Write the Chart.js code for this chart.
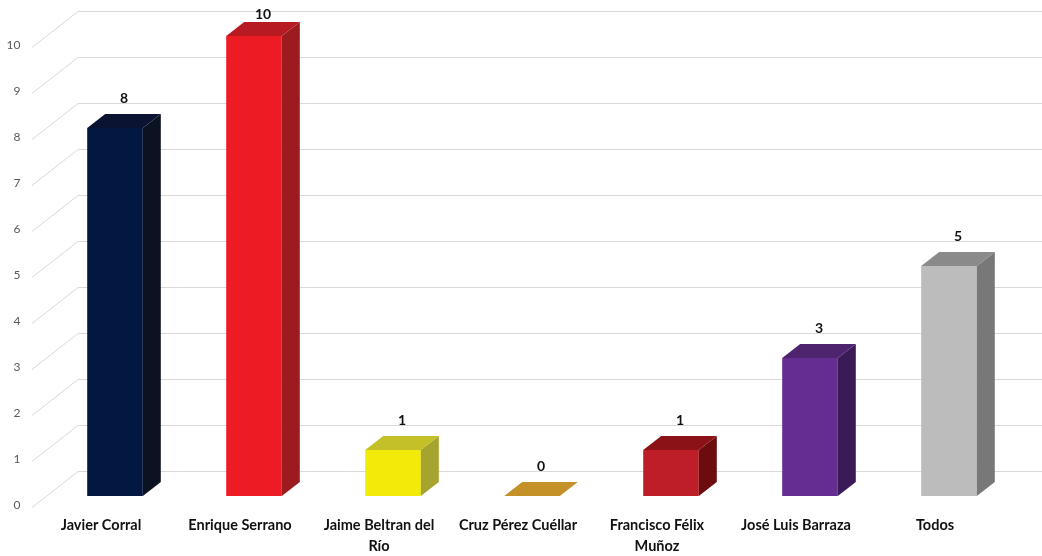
<!DOCTYPE html>
<html>
<head>
<meta charset="utf-8">
<script src="https://cdn.jsdelivr.net/npm/chart.js@4/dist/chart.umd.min.js"></script>
<style>
  html, body { margin: 0; padding: 0; background: #fff; }
  #wrap { position: relative; width: 1042px; height: 556px; }
</style>
</head>
<body>
<div id="wrap"><canvas id="votes"></canvas></div>
<script>
const categories = [
    'Javier Corral',
    'Enrique Serrano',
    ['Jaime Beltran del', 'Río'],
    'Cruz Pérez Cuéllar',
    ['Francisco Félix', 'Muñoz'],
    'José Luis Barraza',
    'Todos'
]
const values = [8, 10, 1, 0, 1, 3, 5]
const yTicks = [0, 1, 2, 3, 4, 5, 6, 7, 8, 9, 10]

// front / side / top shades for each bar
const frontColors = ['#021841', '#ed1c24', '#f2eb0a', '#c39128', '#be1e27', '#662d91', '#bcbcbc']
const sideColors  = ['#0b1222', '#9b1b1f', '#a6a42f', '#c39128', '#6c0c0f', '#3c1a58', '#787878']
const topColors   = ['#0a1432', '#b71b21', '#c4c027', '#c39128', '#8b1317', '#4e246f', '#8a8a8a']

const DX = 18, DY = -14       // bar depth
const WALL = -25              // back wall offset from bar front
const FRONT_X = 32, BACK_X = 78

const fake3d = {
    id: 'fake3d',
    beforeDatasetsDraw(chart) {
        const ctx = chart.ctx
        const y = chart.scales.y
        ctx.save()
        ctx.strokeStyle = '#d9d9d9'
        ctx.lineWidth = 1
        yTicks.forEach(v => {
            const py = Math.round(y.getPixelForValue(v) + WALL) + 0.5
            ctx.beginPath()
            ctx.moveTo(FRONT_X, py + 36)
            ctx.lineTo(BACK_X, py)
            ctx.lineTo(chart.width, py)
            ctx.stroke()
        })
        ctx.restore()
    },
    afterDatasetsDraw(chart) {
        const ctx = chart.ctx
        const meta = chart.getDatasetMeta(0)
        ctx.save()
        meta.data.forEach((bar, i) => {
            const l = bar.x - bar.width / 2
            const r = bar.x + bar.width / 2
            const t = bar.y
            const b = bar.base
            // side face
            if (b - t > 0) {
                ctx.fillStyle = sideColors[i]
                ctx.beginPath()
                ctx.moveTo(r, t)
                ctx.lineTo(r + DX, t + DY)
                ctx.lineTo(r + DX, b + DY)
                ctx.lineTo(r, b)
                ctx.closePath()
                ctx.fill()
            }
            // top face
            ctx.fillStyle = topColors[i]
            ctx.beginPath()
            ctx.moveTo(l, t)
            ctx.lineTo(l + DX, t + DY)
            ctx.lineTo(r + DX, t + DY)
            ctx.lineTo(r, t)
            ctx.closePath()
            ctx.fill()
            // value label
            ctx.fillStyle = '#111'
            ctx.font = 'bold 14px Lato'
            ctx.textAlign = 'center'
            ctx.textBaseline = 'middle'
            ctx.fillText(values[i], bar.x + DX / 2, Math.max(t - 30, 14))
        })
        ctx.restore()
    }
}

new Chart(document.getElementById('votes'), {
    type: 'bar',
    data: {
        labels: categories,
        datasets: [{
            data: values,
            backgroundColor: frontColors,
            borderWidth: 0,
            barPercentage: 0.4,
            categoryPercentage: 1
        }]
    },
    options: {
        responsive: true,
        maintainAspectRatio: false,
        animation: false,
        layout: { padding: { top: 36, right: 23.5, left: 0, bottom: 0 } },
        plugins: {
            legend: { display: false },
            tooltip: { enabled: false }
        },
        scales: {
            x: {
                grid: { display: false, drawTicks: false },
                border: { display: false },
                ticks: {
                    color: '#111',
                    padding: 19,
                    labelOffset: -14,
                    maxRotation: 0,
                    autoSkip: false,
                    font: { family: 'Lato', size: 14.5, weight: 'bold', lineHeight: 1.45 }
                },
                afterFit: s => { s.height = 60 }
            },
            y: {
                min: 0,
                max: 10,
                grid: { display: false, drawTicks: false },
                border: { display: false },
                ticks: {
                    stepSize: 1,
                    color: '#595959',
                    padding: 25,
                    labelOffset: 9,
                    font: { family: 'Lato', size: 12 }
                },
                afterFit: s => { s.width = 45.5 }
            }
        }
    },
    plugins: [fake3d]
})
</script>
</body>
</html>
